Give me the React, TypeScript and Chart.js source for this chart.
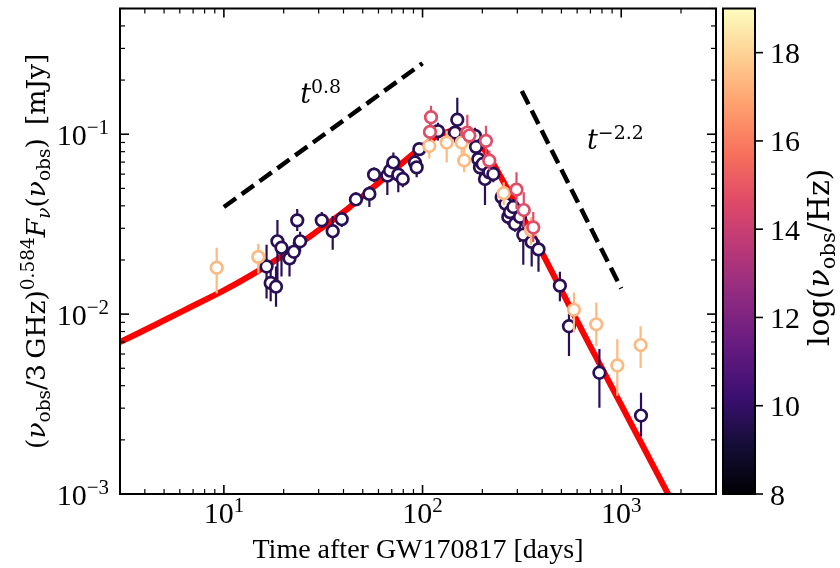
import React, { useEffect, useRef } from "react";
import { Chart, registerables } from "chart.js";

Chart.register(...registerables);

// ---------------- data ----------------
// axis limits
const X_MIN = 3, X_MAX = 3000;
const Y_MIN = 0.001, Y_MAX = 0.5;
const CB_MIN = 8, CB_MAX = 19;

// model light curve (red line)
const modelT = [3.0, 4.467, 6.31, 10, 14.13, 19.95, 28.18, 39.81, 56.23, 79.43, 100, 117.5, 134.9, 154.9, 177.8, 204.2, 234.4, 269.2, 316.2, 398.1, 501.2, 631.0, 794.3, 1000, 1259, 1585, 1995];
const modelF = [0.006982, 0.00867, 0.0105, 0.01355, 0.01679, 0.02123, 0.02786, 0.03673, 0.05047, 0.0695, 0.08551, 0.09727, 0.1035, 0.1047, 0.09772, 0.08222, 0.06457, 0.04898, 0.03548, 0.02213, 0.01349, 0.008222, 0.00507, 0.003126, 0.001928, 0.001189, 0.000733];

// power-law guides
const riseT = [10, 100];
const riseF = [0.0394, 0.248];
const decayT = [316, 1000];
const decayF = [0.174, 0.0139];

// annotation anchors (left edge of "t", baseline)
const annT = [24.2, 672.6];
const annF = [0.1495, 0.0823];
const annExp = ["0.8", "\u22122.2"];

// radio
const radioLogNu = 9.7;
const radioT = [16.4, 17.2, 18.3, 18.6, 19.5, 21.4, 22.5, 23.4, 24.2, 31.1, 35.3, 39.2, 46.2, 54.0, 57.0, 66.5, 68.6, 71.3, 75.5, 79.5, 91.6, 93.4, 96.3, 119.6, 149.6, 145.7, 183.7, 185.8, 190.8, 194.6, 206.2, 200.8, 216.8, 227.1, 250.2, 261.5, 270.2, 275.5, 286.3, 292.0, 309.4, 321.4, 354.3, 383.4, 491.2, 545.9, 776.6, 1258];
const radioF = [0.0184, 0.0149, 0.0142, 0.0254, 0.0234, 0.0204, 0.0222, 0.0332, 0.0254, 0.0332, 0.0289, 0.0337, 0.0434, 0.0466, 0.0596, 0.0589, 0.0627, 0.0697, 0.0596, 0.0564, 0.0697, 0.0654, 0.0826, 0.1041, 0.1204, 0.1021, 0.0979, 0.0851, 0.0727, 0.0654, 0.0564, 0.0683, 0.0614, 0.0601, 0.0447, 0.0411, 0.0347, 0.0369, 0.0394, 0.0317, 0.0347, 0.0276, 0.0252, 0.0229, 0.0144, 0.00856, 0.00472, 0.00273];
const radioLo = [0.0122, 0.0118, 0.0110, 0.0134, 0.0162, 0.0162, 0.0191, 0.0290, 0.0222, 0.0301, 0.0228, 0.0305, 0.0399, 0.0394, 0.0541, 0.0459, 0.0562, 0.0599, 0.0476, 0.0508, 0.0614, 0.0576, 0.0772, 0.0922, 0.0899, 0.0899, 0.0877, 0.0772, 0.0663, 0.0591, 0.0404, 0.0614, 0.0555, 0.0541, 0.0399, 0.0369, 0.0313, 0.0334, 0.0356, 0.0287, 0.0252, 0.0188, 0.0184, 0.0172, 0.0118, 0.00585, 0.00302, 0.00209];
const radioHi = [0.0243, 0.0191, 0.0184, 0.0334, 0.0269, 0.0237, 0.0252, 0.0384, 0.0287, 0.0369, 0.0351, 0.0369, 0.0476, 0.0514, 0.0654, 0.0697, 0.0697, 0.0792, 0.0654, 0.0614, 0.0792, 0.0724, 0.0899, 0.1159, 0.1593, 0.1130, 0.1088, 0.0922, 0.0792, 0.0715, 0.0630, 0.0753, 0.0671, 0.0654, 0.0495, 0.0459, 0.0384, 0.0409, 0.0436, 0.0356, 0.0384, 0.0325, 0.0287, 0.0259, 0.0172, 0.0101, 0.00639, 0.00365];

// optical
const optLogNu = 14.7;
const optT = [110.3, 109.0, 168.0, 172.0, 208.6, 216.8, 297.1, 323.3, 360.9];
const optF = [0.1243, 0.1030, 0.1021, 0.0983, 0.0919, 0.0713, 0.0492, 0.0379, 0.0303];
const optLo = [0.1074, 0.0922, 0.0922, 0.0888, 0.0697, 0.0630, 0.0384, 0.0305, 0.0252];
const optHi = [0.1439, 0.1145, 0.1283, 0.1088, 0.1116, 0.0812, 0.0614, 0.0476, 0.0369];

// X-ray
const xrayLogNu = 17.4;
const xrayT = [9.2, 14.9, 108.1, 132.3, 157.4, 162.0, 256.2, 351.5, 578.5, 749.2, 955.6, 1252];
const xrayF = [0.0181, 0.0208, 0.0860, 0.0899, 0.0899, 0.0715, 0.0470, 0.0293, 0.01057, 0.00878, 0.00518, 0.00673];
const xrayLo = [0.0130, 0.0168, 0.0734, 0.0697, 0.0772, 0.0614, 0.0404, 0.0243, 0.00793, 0.00664, 0.00352, 0.00502];
const xrayHi = [0.0234, 0.0246, 0.0971, 0.1047, 0.1047, 0.0844, 0.0541, 0.0347, 0.0132, 0.0116, 0.00726, 0.00856];

// ticks
const xMajor = [10, 100, 1000];
const xMajorExp = ["1", "2", "3"];
const yMajor = [0.001, 0.01, 0.1];
const yMajorExp = ["\u22123", "\u22122", "\u22121"];
const cbTicks = [8, 10, 12, 14, 16, 18];

// ---------------- helpers ----------------
const TXT = '"Liberation Serif", "Times New Roman", serif';
const MATH = '"DejaVu Serif", serif';

const MAGMA: number[][] = [
  [0, 0, 4], [20, 14, 54], [59, 15, 112], [100, 26, 128], [140, 41, 129],
  [183, 55, 121], [222, 73, 104], [247, 112, 92], [254, 159, 109], [254, 207, 146], [252, 253, 191],
];
const rgb = (c: number[]) => `rgb(${Math.round(c[0])},${Math.round(c[1])},${Math.round(c[2])})`;
function magma(t: number): string {
  const tt = Math.max(0, Math.min(1, t)) * 10;
  const i = Math.min(9, Math.floor(tt));
  const f = tt - i;
  const a = MAGMA[i], b = MAGMA[i + 1];
  return rgb([a[0] + (b[0] - a[0]) * f, a[1] + (b[1] - a[1]) * f, a[2] + (b[2] - a[2]) * f]);
}
const cbColor = (v: number) => magma((v - CB_MIN) / (CB_MAX - CB_MIN));

type Seg = { t: string; it?: boolean; s?: number; dy?: number };
function drawRich(ctx: CanvasRenderingContext2D, segs: Seg[], x: number, y: number, size: number, fam: string, align: string) {
  const fonts = segs.map((sg) => `${sg.it ? "italic " : ""}${size * (sg.s || 1)}px ${fam}`);
  const widths = segs.map((sg, i) => { ctx.font = fonts[i]; return ctx.measureText(sg.t).width; });
  const total = widths.reduce((p, c) => p + c, 0);
  let cx = align === "center" ? x - total / 2 : align === "right" ? x - total : x;
  ctx.textAlign = "left";
  ctx.textBaseline = "alphabetic";
  segs.forEach((sg, i) => {
    ctx.font = fonts[i];
    ctx.fillText(sg.t, cx, y + (sg.dy || 0) * size);
    cx += widths[i];
  });
}

const decorPlugin = {
  id: "decor",
  beforeDatasetDraw(chart: any, args: any) {
    const ds = chart.data.datasets[args.index];
    if (!ds.errLo) return;
    const ctx = chart.ctx, a = chart.chartArea;
    const xs = chart.scales.x, ys = chart.scales.y;
    ctx.save();
    ctx.beginPath();
    ctx.rect(a.left, a.top, a.right - a.left, a.bottom - a.top);
    ctx.clip();
    ctx.strokeStyle = ds.errColor;
    ctx.lineWidth = 2.2;
    ds.data.forEach((p: any, i: number) => {
      const px = xs.getPixelForValue(p.x);
      ctx.beginPath();
      ctx.moveTo(px, ys.getPixelForValue(ds.errLo[i]));
      ctx.lineTo(px, ys.getPixelForValue(ds.errHi[i]));
      ctx.stroke();
    });
    ctx.restore();
  },
  afterDraw(chart: any) {
    const ctx: CanvasRenderingContext2D = chart.ctx;
    const a = chart.chartArea;
    const xs = chart.scales.x, ys = chart.scales.y, cb = chart.scales.cb;
    ctx.save();
    ctx.fillStyle = "#000";
    ctx.strokeStyle = "#000";
    const line = (x1: number, y1: number, x2: number, y2: number, lw: number) => {
      ctx.lineWidth = lw;
      ctx.beginPath();
      ctx.moveTo(x1, y1);
      ctx.lineTo(x2, y2);
      ctx.stroke();
    };
    // x ticks (inward, bottom and top)
    for (let e = 0; e <= 3; e++) {
      for (let k = 1; k <= 9; k++) {
        const v = k * Math.pow(10, e);
        if (v < X_MIN || v > X_MAX) continue;
        const px = xs.getPixelForValue(v);
        const len = k === 1 ? 9 : 5;
        const lw = k === 1 ? 1.6 : 1.2;
        line(px, a.bottom, px, a.bottom - len, lw);
        line(px, a.top, px, a.top + len, lw);
      }
    }
    // y ticks (inward, left and right)
    for (let e = -3; e <= 0; e++) {
      for (let k = 1; k <= 9; k++) {
        const v = k * Math.pow(10, e);
        if (v < Y_MIN || v > Y_MAX) continue;
        const py = ys.getPixelForValue(v);
        const len = k === 1 ? 9 : 5;
        const lw = k === 1 ? 1.6 : 1.2;
        line(a.left, py, a.left + len, py, lw);
        line(a.right, py, a.right - len, py, lw);
      }
    }
    // frame
    ctx.lineWidth = 2;
    ctx.strokeRect(a.left, a.top, a.right - a.left, a.bottom - a.top);

    // tick labels
    const TS = 30;
    xMajor.forEach((v, i) => {
      const px = xs.getPixelForValue(v);
      drawRich(ctx, [{ t: "10" }, { t: xMajorExp[i], s: 0.7, dy: -0.38 }], px, a.bottom + 29, TS, TXT, "center");
    });
    yMajor.forEach((v, i) => {
      const py = ys.getPixelForValue(v);
      drawRich(ctx, [{ t: "10" }, { t: yMajorExp[i], s: 0.7, dy: -0.38 }], a.left - 11, py + 11, TS, TXT, "right");
    });

    // axis labels
    drawRich(ctx, [{ t: "Time after GW170817 [days]" }], (a.left + a.right) / 2, 558, 28, TXT, "center");
    ctx.save();
    ctx.translate(45, (a.top + a.bottom) / 2);
    ctx.rotate(-Math.PI / 2);
    drawRich(ctx, [
      { t: "(" }, { t: "\u03bd", it: true }, { t: "obs", s: 0.7, dy: 0.2 }, { t: "/3\u2009GHz)" },
      { t: "0.584", s: 0.7, dy: -0.42 }, { t: "F", it: true }, { t: "\u03bd", it: true, s: 0.7, dy: 0.2 },
      { t: "(" }, { t: "\u03bd", it: true }, { t: "obs", s: 0.7, dy: 0.2 }, { t: ")\u2002[mJy]" },
    ], 0, 0, 26.5, MATH, "center");
    ctx.restore();

    // colorbar
    const bx0 = a.right + 7, bx1 = a.right + 39;
    const yTop = cb.getPixelForValue(CB_MAX), yBot = cb.getPixelForValue(CB_MIN);
    const g = ctx.createLinearGradient(0, yBot, 0, yTop);
    MAGMA.forEach((c, i) => g.addColorStop(i / 10, rgb(c)));
    ctx.fillStyle = g;
    ctx.fillRect(bx0, yTop, bx1 - bx0, yBot - yTop);
    ctx.lineWidth = 2;
    ctx.strokeRect(bx0, yTop, bx1 - bx0, yBot - yTop);
    ctx.fillStyle = "#000";
    cbTicks.forEach((v) => {
      const py = cb.getPixelForValue(v);
      line(bx1, py, bx1 + 8, py, 1.6);
      drawRich(ctx, [{ t: String(v) }], bx1 + 15, py + 10.5, TS, TXT, "left");
    });
    ctx.save();
    ctx.translate(829, (a.top + a.bottom) / 2 + 6);
    ctx.rotate(-Math.PI / 2);
    drawRich(ctx, [{ t: "log(" }, { t: "\u03bd", it: true }, { t: "obs", s: 0.7, dy: 0.2 }, { t: "/Hz)" }], 0, 0, 30, MATH, "center");
    ctx.restore();

    // power-law annotations
    annT.forEach((t, i) => {
      const px = xs.getPixelForValue(t);
      const py = ys.getPixelForValue(annF[i]);
      drawRich(ctx, [{ t: "t", it: true }, { t: annExp[i], s: 0.7, dy: -0.38 }], px, py, 27, MATH, "left");
    });
    ctx.restore();
  },
};

export default function App() {
  const ref = useRef<HTMLCanvasElement>(null);
  useEffect(() => {
    const canvas = ref.current;
    if (!canvas) return;
    const pts = (xv: number[], yv: number[]) => xv.map((x, i) => ({ x, y: yv[i] }));
    const sc = (label: string, T: number[], F: number[], lo: number[], hi: number[], logNu: number, order: number) => {
      const color = cbColor(logNu);
      return {
        label, data: pts(T, F), errLo: lo, errHi: hi, errColor: color,
        showLine: false, pointRadius: 5.8, pointBorderWidth: 2.7,
        pointBorderColor: color, pointBackgroundColor: "#ffffff", order,
      };
    };
    const chart = new Chart(canvas, {
      type: "scatter",
      data: {
        datasets: [
          sc("optical", optT, optF, optLo, optHi, optLogNu, 1),
          sc("xray", xrayT, xrayF, xrayLo, xrayHi, xrayLogNu, 2),
          sc("radio", radioT, radioF, radioLo, radioHi, radioLogNu, 3),
          { label: "model", data: pts(modelT, modelF), showLine: true, borderColor: "#ff0000", borderWidth: 6, pointRadius: 0, tension: 0.3, order: 4, clip: 0 } as any,
          { label: "rise", data: pts(riseT, riseF), showLine: true, borderColor: "#000000", borderWidth: 4.5, borderDash: [15, 7], pointRadius: 0, order: 5, clip: 0 } as any,
          { label: "decay", data: pts(decayT, decayF), showLine: true, borderColor: "#000000", borderWidth: 4.5, borderDash: [15, 7], pointRadius: 0, order: 5, clip: 0 } as any,
        ] as any,
      },
      options: {
        responsive: false,
        devicePixelRatio: 1,
        animation: false,
        events: [],
        layout: { padding: { top: 5, left: 0, right: 0, bottom: 0 } },
        plugins: { legend: { display: false }, tooltip: { enabled: false } },
        scales: {
          x: {
            type: "logarithmic", min: X_MIN, max: X_MAX, bounds: "data",
            ticks: { display: false }, grid: { display: false, drawTicks: false }, border: { display: false },
            afterFit: (s: any) => { s.height = 74; },
          },
          y: {
            type: "logarithmic", min: Y_MIN, max: Y_MAX, bounds: "data",
            ticks: { display: false }, grid: { display: false, drawTicks: false }, border: { display: false },
            afterFit: (s: any) => { s.width = 120; },
          },
          cb: {
            type: "linear", axis: "y", position: "right", min: CB_MIN, max: CB_MAX, bounds: "data",
            ticks: { display: false }, grid: { display: false, drawTicks: false }, border: { display: false },
            afterFit: (s: any) => { s.width = 124; },
          },
        } as any,
      },
      plugins: [decorPlugin as any],
    });
    return () => chart.destroy();
  }, []);
  return (
    <div style={{ position: "fixed", left: 0, top: 0, width: 840, height: 568, background: "#ffffff" }}>
      <canvas ref={ref} width={840} height={568} style={{ width: 840, height: 568, display: "block" }} />
    </div>
  );
}
